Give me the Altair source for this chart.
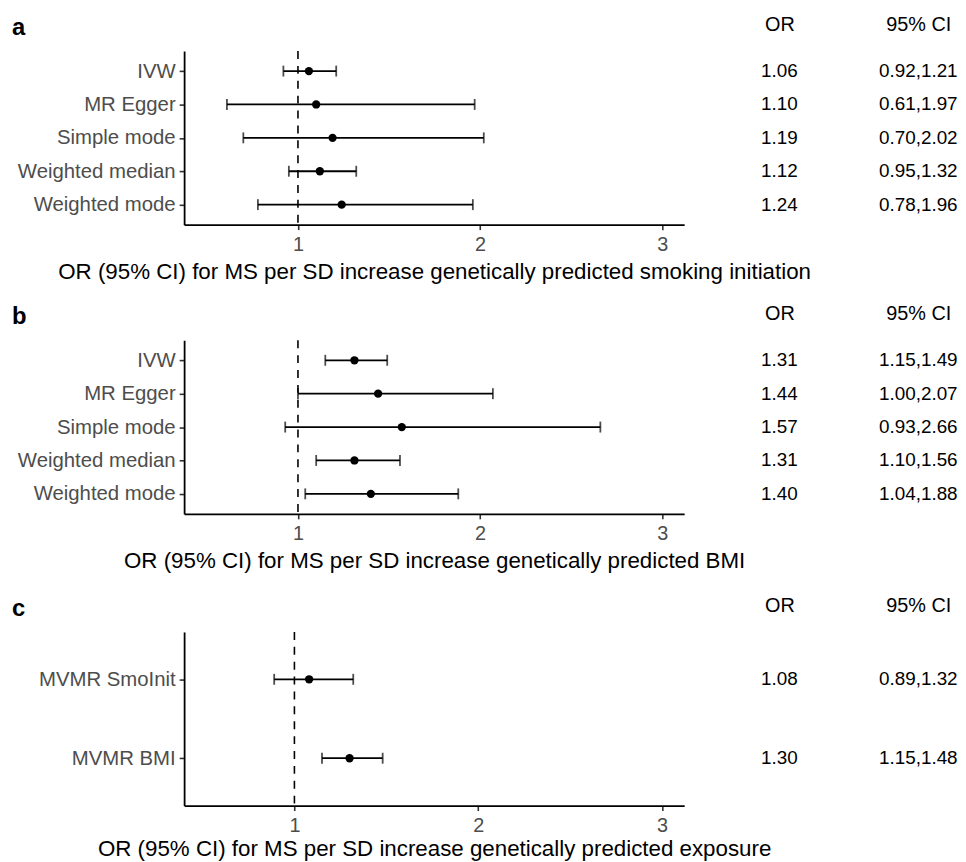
import altair as alt
import pandas as pd

FONT = "Liberation Sans"

# ---- data ----
methods_ab = ["IVW", "MR Egger", "Simple mode", "Weighted median", "Weighted mode"]
a_or = [1.06, 1.10, 1.19, 1.12, 1.24]
a_lo = [0.92, 0.61, 0.70, 0.95, 0.78]
a_hi = [1.21, 1.97, 2.02, 1.32, 1.96]

b_or = [1.31, 1.44, 1.57, 1.31, 1.40]
b_lo = [1.15, 1.00, 0.93, 1.10, 1.04]
b_hi = [1.49, 2.07, 2.66, 1.56, 1.88]

methods_c = ["MVMR SmoInit", "MVMR BMI"]
c_or = [1.08, 1.30]
c_lo = [0.89, 1.15]
c_hi = [1.32, 1.48]

x_ticks = [1, 2, 3]
ref_value = [1.0]
table_cols = ["OR", "95% CI"]

titles = {
    "a": "OR (95% CI) for MS per SD increase genetically predicted smoking initiation",
    "b": "OR (95% CI) for MS per SD increase genetically predicted BMI",
    "c": "OR (95% CI) for MS per SD increase genetically predicted exposure",
}


def panel(letter, methods, ors, los, his, xdomain, table_range, title_pad):
    df = pd.DataFrame({"method": methods, "or": ors, "lo": los, "hi": his})
    tab = pd.DataFrame({
        "method": methods * 2,
        "col": [table_cols[0]] * len(methods) + [table_cols[1]] * len(methods),
        "txt": [f"{v:.2f}" for v in ors] + [f"{l:.2f},{h:.2f}" for l, h in zip(los, his)],
    })

    y_enc = alt.Y(
        "method:N", sort=methods,
        scale=alt.Scale(type="point", padding=0.6),
        axis=alt.Axis(
            title=letter, titleAngle=0, titleX=-174, titleY=-17,
            titleAlign="left", titleBaseline="alphabetic", titleFontSize=24,
            titleFontWeight="bold", titleColor="black",
            labelFontSize=20.5, labelColor="#4D4D4D", labelPadding=4,
            tickSize=5, tickColor="#333333", tickWidth=1.6,
            domainColor="black", domainWidth=1.8, grid=False,
        ),
    )
    xscale = alt.Scale(domain=xdomain, nice=False, zero=False)
    xaxis = alt.Axis(
        values=x_ticks, format="d", title=titles[letter], grid=False,
        labelFontSize=20, labelColor="#4D4D4D", labelPadding=5,
        tickSize=5, tickColor="#333333", tickWidth=1.6,
        domainColor="black", domainWidth=1.8,
        titleFontSize=22.5, titleColor="black", titleFontWeight="normal",
        titlePadding=title_pad,
    )

    vline = alt.Chart(pd.DataFrame({"ref": ref_value})).mark_rule(
        strokeDash=[8, 7], color="black", strokeWidth=1.6
    ).encode(x=alt.X("ref:Q", scale=xscale, axis=xaxis))

    base = alt.Chart(df)
    err = base.mark_rule(color="black", strokeWidth=1.8).encode(
        x=alt.X("lo:Q", scale=xscale, axis=xaxis), x2="hi:Q", y=y_enc)
    cap_lo = base.mark_tick(color="black", size=11, thickness=1.8).encode(
        x=alt.X("lo:Q", scale=xscale, axis=xaxis), y=y_enc)
    cap_hi = base.mark_tick(color="black", size=11, thickness=1.8).encode(
        x=alt.X("hi:Q", scale=xscale, axis=xaxis), y=y_enc)
    pts = base.mark_circle(color="black", size=70, opacity=1).encode(
        x=alt.X("or:Q", scale=xscale, axis=xaxis), y=y_enc)

    forest = alt.layer(vline, err, cap_lo, cap_hi, pts)

    table = alt.Chart(tab).mark_text(
        fontSize=19, color="black", align="center", baseline="middle"
    ).encode(
        x=alt.X("col:N",
                scale=alt.Scale(type="point", domain=table_cols, range=table_range, padding=0),
                axis=alt.Axis(orient="top", title=None, domain=False, ticks=False,
                              labelFontSize=20, labelColor="black", labelPadding=17,
                              labelAngle=0, grid=False)),
        y=y_enc,
        text="txt:N",
    )

    return alt.layer(forest, table).resolve_scale(x="independent").properties(
        width=504, height=175)


pa = panel("a", methods_ab, a_or, a_lo, a_hi, [0.375, 3.12], [600, 740], 6)
pb = panel("b", methods_ab, b_or, b_lo, b_hi, [0.375, 3.12], [600, 740], 6)
pc = panel("c", methods_c, c_or, c_lo, c_hi, [0.40, 3.12], [600, 740], 2.5)

top_pair = alt.vconcat(pa, pb, spacing=20.5)
chart = alt.vconcat(top_pair, pc, spacing=23.5).properties(
    padding={"left": 3.5, "top": 3, "right": 0, "bottom": 0}
).configure(font=FONT).configure_view(strokeWidth=0, stroke="transparent")

chart.save("out.html", embed_options={"renderer": "svg", "actions": False})
